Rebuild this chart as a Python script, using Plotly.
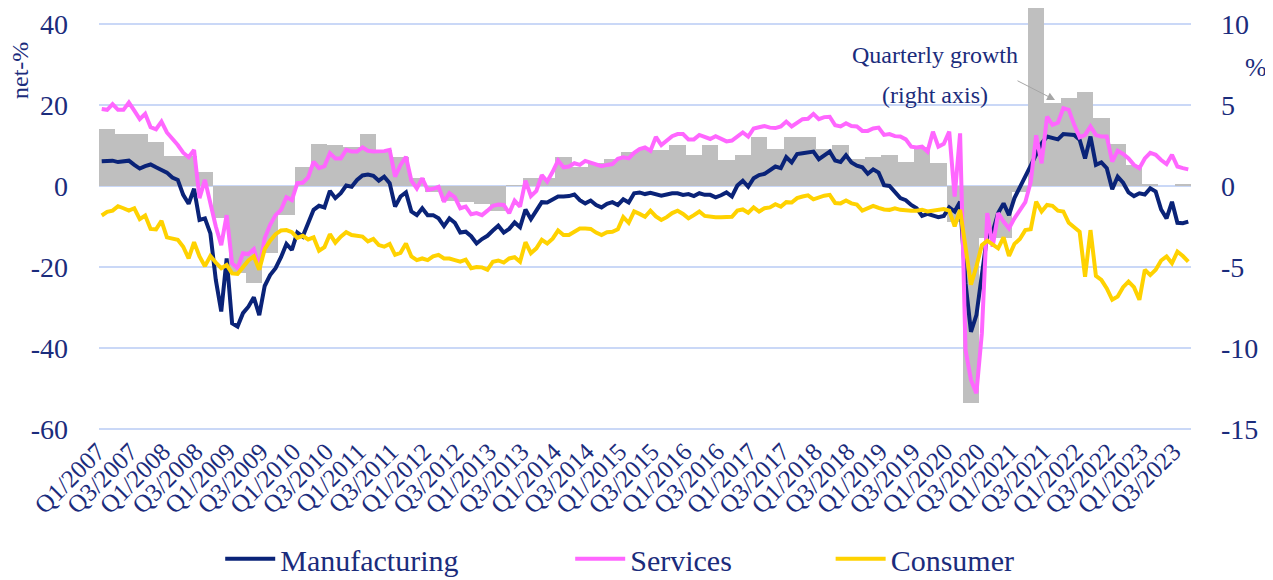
import plotly.graph_objects as go

# monthly survey balances, Jan 2007 - Sep 2023 (net-%)
manufacturing = [
    6.1, 6.25, 6.25, 5.9, 6.0, 6.25, 5.2, 4.3, 4.9, 5.3, 4.6, 4.0,
    3.3, 2.1, 1.5, -2.2, -4.4, -0.7, -8.4, -8.0, -11.7, -23.2, -31.0, -17.9,
    -33.9, -34.7, -31.4, -29.8, -27.5, -31.9, -24.7, -22.0, -20.3, -17.6, -14.3, -15.8,
    -11.5, -12.5, -9.1, -5.9, -4.9, -5.3, -1.2, -3.0, -1.8, 0.1, -0.2, 1.5,
    2.6, 2.8, 2.5, 1.3, 2.3, 0.7, -5.1, -2.6, -1.6, -6.3, -7.2, -5.5,
    -7.2, -7.2, -8.0, -9.9, -8.0, -9.1, -11.5, -11.3, -12.4, -14.2, -13.1, -12.3,
    -11.0, -9.8, -11.5, -10.6, -9.0, -10.2, -5.8, -8.2, -6.1, -4.0, -4.1, -3.3,
    -2.6, -2.6, -2.5, -2.1, -3.5, -4.3, -3.6, -4.7, -5.3, -4.4, -4.0, -4.7,
    -3.3, -4.1, -1.8, -1.6, -2.0, -1.7, -2.0, -2.4, -2.1, -1.8, -1.8, -2.2,
    -2.0, -2.5, -1.8, -2.2, -2.2, -2.8, -2.3, -1.6, -2.6, 0.1, 1.3, -0.2,
    1.9, 2.7, 3.0, 4.0, 4.8, 4.4, 7.1, 5.8, 7.9, 8.1, 8.2, 8.5,
    6.6, 7.7, 8.5, 6.3, 5.9, 7.6, 5.8, 5.0, 4.6, 3.0, 4.1, 3.3,
    0.2, 0.0, -1.4, -3.0, -3.5, -4.7, -5.5, -7.4, -6.9, -7.4, -7.7, -7.4,
    -5.3, -6.3, -3.9, -24.0, -36.0, -31.9, -21.6, -12.1, -11.3, -6.7, -4.3, -7.2,
    -3.0, -0.5, 2.5, 5.0, 7.8, 10.5, 12.2, 11.8, 11.5, 12.8, 12.8, 12.6,
    11.4, 6.8, 12.2, 5.2, 5.8, 4.4, -0.8, 2.3, 0.8, -1.6, -2.5, -1.8,
    -2.1, -0.6, -1.4, -5.8, -8.0, -3.9, -9.1, -9.2, -8.8,
]
services = [
    19.0, 18.8, 20.2, 18.8, 18.8, 20.6, 18.6, 16.5, 17.8, 14.5, 14.0, 15.9,
    13.2, 11.8, 10.1, 8.2, 7.1, 8.9, -3.0, 1.5, -4.3, -10.0, -14.6, -7.2,
    -19.1, -20.3, -16.6, -16.8, -15.6, -20.3, -12.9, -9.6, -7.2, -5.9, -2.8, -3.5,
    0.7, 0.8, 2.1, 6.0, 4.4, 4.9, 8.1, 6.8, 6.8, 8.9, 8.5, 8.5,
    9.5, 8.7, 8.5, 8.5, 8.6, 8.9, 2.3, 5.2, 7.2, 1.3, -0.6, 1.9,
    -1.0, -0.7, -0.2, -3.9, -1.8, -2.8, -5.5, -5.1, -7.0, -6.7, -7.2, -6.1,
    -4.9, -4.6, -4.7, -6.7, -3.6, -5.1, 1.3, -2.5, -1.2, 2.7, 1.1, 3.5,
    6.3, 4.6, 4.8, 5.6, 5.2, 6.2, 5.8, 5.4, 4.9, 5.2, 5.4, 6.7,
    7.1, 6.8, 8.2, 9.1, 9.5, 8.7, 12.1, 10.1, 11.2, 12.3, 12.8, 12.8,
    11.5, 11.5, 12.6, 12.2, 11.6, 12.3, 11.7, 11.0, 11.2, 12.3, 13.2, 12.2,
    14.2, 14.5, 14.8, 14.4, 14.3, 14.7, 15.9, 14.7, 15.7, 16.5, 16.6, 17.8,
    16.5, 17.0, 17.1, 15.0, 14.7, 15.5, 14.8, 14.7, 13.6, 13.6, 14.2, 14.4,
    12.6, 12.8, 12.3, 12.2, 11.5, 9.7, 9.5, 9.7, 8.5, 13.4, 9.7, 10.4,
    13.4, -2.6, 13.0, -40.5, -47.9, -51.2, -36.4, -6.7, -15.0, -6.7, -8.8, -10.5,
    -8.0, -6.1, -4.0, 1.0, 12.5, 5.6, 17.1, 15.1, 15.6, 19.2, 18.8, 15.1,
    12.0, 12.6, 14.7, 12.6, 12.2, 12.2, 6.0, 8.7, 7.9, 6.8, 5.2, 4.4,
    6.8, 8.2, 7.7, 6.4, 5.4, 7.7, 4.8, 4.4, 4.1,
]
consumer = [
    -7.3, -6.4, -6.1, -5.0, -5.5, -6.1, -5.5, -8.2, -7.3, -10.6, -10.7, -8.6,
    -12.7, -13.1, -13.3, -15.0, -17.9, -13.9, -17.4, -19.8, -17.3, -18.9, -20.3, -19.5,
    -21.6, -21.7, -20.1, -18.4, -17.4, -20.7, -15.6, -13.5, -11.9, -11.0, -10.9, -11.4,
    -12.8, -12.3, -13.2, -12.7, -16.0, -15.1, -11.9, -14.0, -12.5, -11.4, -12.1, -12.3,
    -12.5, -13.7, -13.1, -14.6, -15.0, -14.3, -17.0, -16.5, -14.2, -17.4, -18.3, -17.9,
    -18.3, -17.4, -17.0, -17.9, -17.9, -18.3, -18.7, -18.2, -20.3, -20.0, -20.1, -20.7,
    -18.7, -18.4, -18.9, -17.9, -17.6, -18.7, -13.9, -16.6, -15.4, -13.3, -14.2, -13.0,
    -11.0, -12.1, -12.1, -11.3, -10.5, -10.5, -10.6, -11.5, -12.1, -11.4, -11.3, -10.7,
    -7.7, -9.1, -6.3, -6.9, -7.6, -6.1, -7.5, -8.4, -7.7, -6.7, -6.1, -6.9,
    -8.0, -7.2, -6.3, -7.4, -7.6, -7.7, -7.7, -7.7, -7.6, -6.1, -5.8, -6.6,
    -5.3, -6.3, -5.5, -5.3, -4.5, -5.1, -4.0, -4.1, -3.0, -2.6, -2.3, -3.3,
    -2.8, -2.4, -2.2, -4.2, -4.3, -3.6, -4.3, -4.6, -6.1, -5.5, -4.9, -5.4,
    -5.8, -5.9, -5.5, -5.9, -6.1, -6.1, -6.1, -5.9, -6.3, -6.1, -5.9, -5.7,
    -6.1, -10.0, -5.9, -15.0, -24.4, -19.9, -14.6, -13.5, -14.6, -15.4, -12.7, -17.3,
    -14.3, -13.1, -10.9, -10.7, -3.9, -6.3, -4.7, -4.9, -6.1, -6.3, -9.1, -10.2,
    -11.3, -22.4, -10.9, -22.2, -23.2, -25.3, -28.1, -27.3, -25.0, -23.6, -25.0, -28.1,
    -20.7, -22.0, -20.7, -18.4, -17.4, -19.1, -16.2, -17.3, -18.7,
]
# quarterly growth, Q1/2007 - Q3/2023 (%, right axis)
quarterly_growth = [
    3.5, 3.19, 3.19, 2.7, 1.87, 1.87, 0.88, -2.0, -5.4, -6.0, -4.15, -1.8,
    1.19, 2.6, 2.5, 2.42, 3.19, 2.22, 1.81, 0.5, -0.4, -0.9, -0.97, -1.1,
    -1.55, 0.05, 0.49, 0.49, 1.81, 1.19, 1.4, 1.65, 2.08, 2.3, 2.22, 2.5,
    1.91, 2.5, 1.6, 1.91, 3.0, 2.3, 3.0, 3.0, 2.28, 2.5, 1.65, 1.81,
    1.91, 1.5, 2.43, 1.4, -2.2, -13.4, -3.2, -3.2, -0.4, 14.0, 5.1, 5.4,
    5.8, 4.22, 2.59, 1.3, 0.15, 0.0, 0.1,
]
tick_labels = [
    "Q1/2007", "Q3/2007", "Q1/2008", "Q3/2008", "Q1/2009", "Q3/2009",
    "Q1/2010", "Q3/2010", "Q1/2011", "Q3/2011", "Q1/2012", "Q3/2012",
    "Q1/2013", "Q3/2013", "Q1/2014", "Q3/2014", "Q1/2015", "Q3/2015",
    "Q1/2016", "Q3/2016", "Q1/2017", "Q3/2017", "Q1/2018", "Q3/2018",
    "Q1/2019", "Q3/2019", "Q1/2020", "Q3/2020", "Q1/2021", "Q3/2021",
    "Q1/2022", "Q3/2022", "Q1/2023", "Q3/2023",
]
left_ticks = [-60, -40, -20, 0, 20, 40]
right_ticks = [-15, -10, -5, 0, 5, 10]

months = list(range(len(manufacturing)))
quarter_mid = [3 * q + 1 for q in range(len(quarterly_growth))]
label_pos = [6 * k for k in range(len(tick_labels))]

FONT = "Liberation Serif"
TEXT = "#1B2C7C"
NAVY = "#0A2378"
PINK = "#FF66FF"
YELLOW = "#FFD200"
GRID = "#CAD8F7"

fig = go.Figure()

# bars on the primary (right) axis so the lines overlay them
fig.add_trace(go.Bar(
    x=quarter_mid, y=quarterly_growth, width=3, yaxis="y",
    marker=dict(color="#BFBFBF", line=dict(width=0)),
    name="Quarterly growth", showlegend=False,
))
for name, vals, col, leg in [("Manufacturing", manufacturing, NAVY, "legend"),
                             ("Services", services, PINK, "legend2"),
                             ("Consumer", consumer, YELLOW, "legend3")]:
    fig.add_trace(go.Scatter(
        x=months, y=vals, yaxis="y2", mode="lines", name=name,
        line=dict(color=col, width=4), legend=leg,
    ))

# legends measured from the figure bottom so they don't push the margin
leg_style = dict(orientation="h", yref="container", y=0.037, yanchor="middle",
                 xanchor="left", bgcolor="rgba(0,0,0,0)", itemwidth=50,
                 font=dict(family=FONT, size=30, color=TEXT))

# page body adds an 8px offset, so the figure is drawn 8px smaller
fig.update_layout(
    width=1265, height=572, autosize=False,
    margin=dict(l=91, r=82, t=0, b=149),
    plot_bgcolor="white", paper_bgcolor="white",
    font=dict(family=FONT, color=TEXT),
    bargap=0,
    xaxis=dict(range=[-0.5, 200.5], tickvals=label_pos, ticktext=tick_labels,
               tickangle=-45, tickfont=dict(size=25, color=TEXT),
               ticklabelshift=-4,
               showgrid=False, zeroline=False, showline=False, ticks=""),
    yaxis=dict(side="right", range=[-15.125, 10.985], tickvals=right_ticks,
               ticktext=[str(v) for v in right_ticks],
               showgrid=True, gridcolor=GRID, gridwidth=1.5, zeroline=False,
               ticklabelstandoff=29, tickfont=dict(size=28, color=TEXT)),
    yaxis2=dict(side="left", overlaying="y", range=[-60.5, 43.94],
                tickvals=left_ticks, ticktext=[str(v) for v in left_ticks],
                showgrid=False, zeroline=False,
                ticklabelstandoff=30, tickfont=dict(size=28, color=TEXT)),
    legend=dict(x=0.111, **leg_style),
    legend2=dict(x=0.4315, **leg_style),
    legend3=dict(x=0.670, **leg_style),
)

ann_font = dict(family=FONT, size=24, color=TEXT)
fig.add_annotation(x=0.7656, y=0.8889, xref="paper", yref="paper",
                   xanchor="center", yanchor="middle",
                   text="Quarterly growth", showarrow=False, font=ann_font)
fig.add_annotation(x=0.7656, y=0.7943, xref="paper", yref="paper",
                   xanchor="center", yanchor="middle",
                   text="(right axis)", showarrow=False, font=ann_font)
fig.add_annotation(x=0.8755, y=0.7825, xref="paper", yref="paper", text="",
                   showarrow=True, ax=-39, ay=-20, arrowhead=2, arrowsize=1.6,
                   arrowwidth=1, arrowcolor="#A6A6A6")
fig.add_annotation(x=-0.0724, y=0.8534, xref="paper", yref="paper",
                   xanchor="center", yanchor="middle",
                   text="net-%", textangle=-90, showarrow=False,
                   font=dict(family=FONT, size=24, color=TEXT))
fig.add_annotation(x=1.0595, y=0.8582, xref="paper", yref="paper",
                   xanchor="center", yanchor="middle",
                   text="%", showarrow=False,
                   font=dict(family=FONT, size=26, color=TEXT))

fig.write_html("out.html")
